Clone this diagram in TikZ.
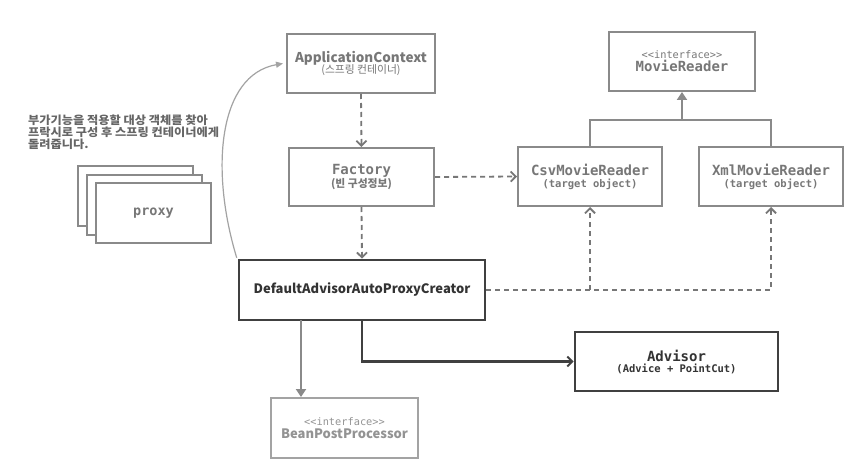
\documentclass[tikz,border=0pt]{standalone}
\usepackage{fontspec}
\setmainfont{Noto Sans CJK KR}
\newfontfamily\mono{DejaVu Sans Mono}
\newfontfamily\krnote[FakeStretch=1.08]{Noto Sans CJK KR}
\usetikzlibrary{arrows.meta}
\definecolor{boxgray}{HTML}{8A8A8A}
\definecolor{txtgray}{HTML}{777777}
\definecolor{notegray}{HTML}{666666}
\definecolor{lgray}{HTML}{A3A3A3}
\definecolor{dark}{HTML}{404040}
\definecolor{darktxt}{HTML}{333333}
\tikzset{
  gbox/.style={draw=boxgray, line width=2pt, fill=white, text=txtgray, align=center, inner sep=0pt},
  dbox/.style={draw=dark, line width=2.6pt, fill=white, text=darktxt, align=center, inner sep=0pt},
  lbox/.style={draw=lgray, line width=2pt, fill=white, text=lgray!90!black, align=center, inner sep=0pt},
  dasharrow/.style={draw=txtgray, line width=1.8pt, dash pattern=on 5pt off 4pt, -{Straight Barb[length=5pt,width=10pt,line width=1.8pt]}},
  solidarrow/.style={draw=dark, line width=2.2pt, -{Straight Barb[length=5pt,width=10pt,line width=2pt]}},
  inh/.style={draw=boxgray, line width=2pt},
  tri/.style={-{Triangle[length=8pt,width=10pt]}},
  curvearrow/.style={draw=lgray, line width=1.2pt, -{Triangle[length=7pt,width=6pt]}},
}
\begin{document}
\begin{tikzpicture}[x=1pt,y=-1pt]
\fill[white] (0,0) rectangle (867,476);
\useasboundingbox (0,0) rectangle (867,476);

% annotation
\node[anchor=north west, align=left, text=notegray, inner sep=0pt,
      font=\krnote\bfseries\fontsize{11.3}{9.6}\selectfont] (note) at (28,115)
  {부가기능을 적용할 대상 객체를 찾아\\프락시로 구성 후 스프링 컨테이너에게\\돌려줍니다.};

% proxy stack
\node[gbox, minimum width=115, minimum height=60] (p1) at (135.5,196) {};
\node[gbox, minimum width=115, minimum height=60] (p2) at (144.5,204.5) {};
\node[gbox, minimum width=115, minimum height=60, font=\mono\bfseries\fontsize{13.5}{16}\selectfont] (p3) at (153.5,213) {proxy};

% main boxes
\node[gbox, minimum width=148, minimum height=59] (ac) at (361,63.5)
  {\bfseries\fontsize{13.5}{15}\selectfont ApplicationContext\\[-1pt]\fontsize{10.8}{12}\selectfont (스프링 컨테이너)};
\node[gbox, minimum width=145, minimum height=58] (fac) at (361.5,177)
  {\mono\bfseries\fontsize{14}{16}\selectfont Factory\\[0pt]\fontsize{10.8}{12}\selectfont\rmfamily\bfseries (빈 구성정보)};
\node[gbox, minimum width=146, minimum height=59] (mr) at (682,61.5)
  {\mono\fontsize{10.3}{12}\selectfont <<interface>>\\[1pt]\mono\bfseries\fontsize{14}{16}\selectfont MovieReader};
\node[gbox, minimum width=144, minimum height=59] (csv) at (590,176.5)
  {\mono\bfseries\fontsize{14}{16}\selectfont CsvMovieReader\\[0pt]\mono\bfseries\fontsize{10.5}{12}\selectfont (target object)};
\node[gbox, minimum width=144, minimum height=59] (xml) at (771,176.5)
  {\mono\bfseries\fontsize{14}{16}\selectfont XmlMovieReader\\[0pt]\mono\bfseries\fontsize{10.5}{12}\selectfont (target object)};
\node[dbox, minimum width=246, minimum height=60, font=\bfseries\fontsize{13}{15}\selectfont] (dap) at (362,290)
  {DefaultAdvisorAutoProxyCreator};
\node[lbox, minimum width=147, minimum height=60] (bpp) at (344.5,428)
  {\mono\fontsize{10.3}{12}\selectfont <<interface>>\\[1pt]\rmfamily\bfseries\fontsize{13}{15}\selectfont BeanPostProcessor};
\node[dbox, minimum width=203, minimum height=59] (adv) at (676.5,361.5)
  {\mono\bfseries\fontsize{14}{16}\selectfont Advisor\\[-1pt]\mono\bfseries\fontsize{10.5}{12}\selectfont (Advice + PointCut)};

% connectors
\draw[dasharrow] (ac.south) -- (fac.north);
\draw[dasharrow] (fac.south) -- (dap.north);
\draw[dasharrow] (fac.east) -- (csv.west);

\coordinate (hb) at (mr.south |- 0,120);
\draw[inh] (csv.north) |- (hb) -| (xml.north);
\draw[inh, tri] (hb) -- (mr.south);

\coordinate (jc) at (csv.south |- dap.east);
\draw[dasharrow] (dap.east) -| (xml.south);
\draw[dasharrow] (jc) -- (csv.south);

\coordinate (bstart) at (301,320);
\draw[draw=boxgray, line width=2pt, tri] (bstart) -- (bpp.north -| bstart);
\draw[solidarrow] (dap.south) |- (adv.west);

\draw[curvearrow] ([xshift=-1pt,yshift=1pt]dap.north west) .. controls (210,170) and (218,75) .. ([xshift=-3pt]ac.west);
\end{tikzpicture}
\end{document}
